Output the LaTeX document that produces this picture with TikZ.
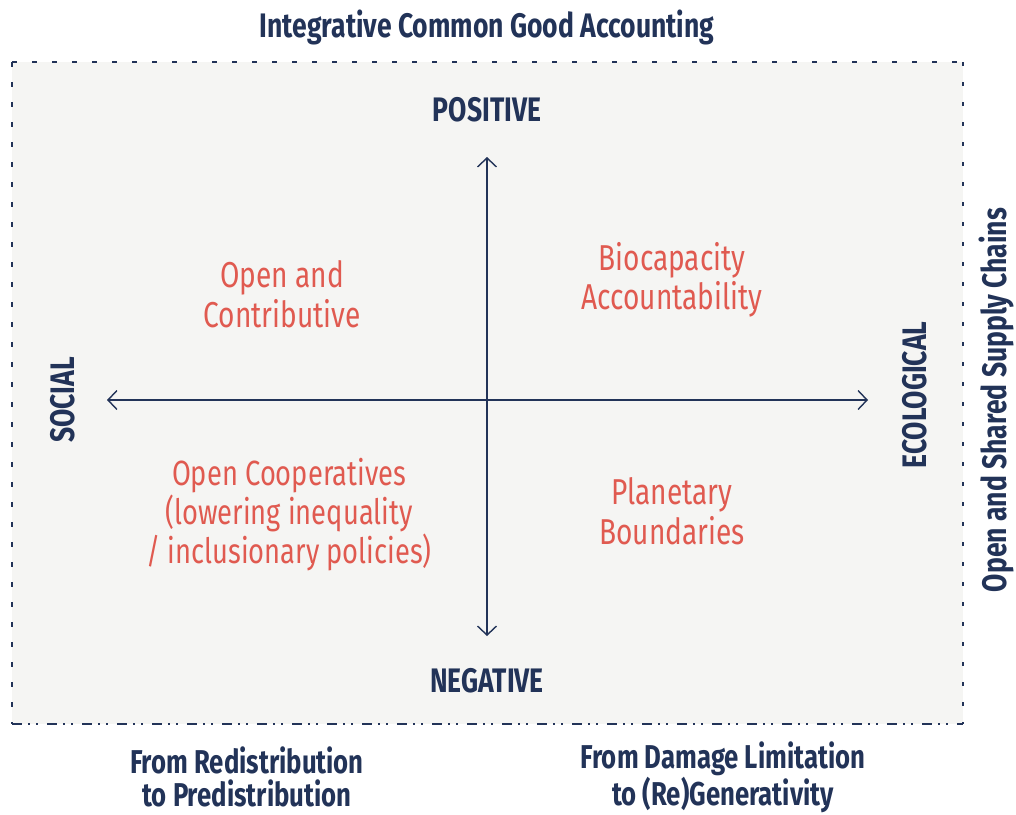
\documentclass[tikz,border=0pt]{standalone}
\usepackage{fontspec}
\usetikzlibrary{arrows.meta}
\newfontfamily\condfont[FakeStretch=0.78]{Fira Sans}
\definecolor{navy}{HTML}{223358}
\definecolor{coral}{HTML}{E05A50}
\definecolor{paper}{HTML}{F5F5F3}

\begin{document}
\begin{tikzpicture}[x=1pt, y=-1pt,
    heading/.style={text=navy, font=\condfont\bfseries\fontsize{34}{36}\selectfont, align=center},
    axislabel/.style={text=navy, font=\condfont\bfseries\fontsize{34}{36}\selectfont},
    footnote/.style={text=navy, font=\condfont\bfseries\fontsize{33}{33}\selectfont, align=center, inner sep=0pt},
    quadrant/.style={text=coral, font=\condfont\fontsize{36}{39.5}\selectfont, align=center},
    axis/.style={navy, line width=1.4pt, {Straight Barb[length=9pt,width=19pt]}-{Straight Barb[length=9pt,width=19pt]}}]
    \useasboundingbox (0,0) rectangle (1016,814);
    \fill[paper] (12,62) rectangle (963,724);

    % frame
    \draw[navy, line width=1.6pt, dash pattern=on 5pt off 15pt] (12,62) -- (963,62);
    \draw[navy, line width=1.6pt, dash pattern=on 5pt off 15pt] (12,62) -- (12,724);
    \draw[navy, line width=1.6pt, dash pattern=on 4pt off 16pt] (963,62) -- (963,724);
    \draw[navy, line width=1.6pt, dash pattern=on 10pt off 6pt on 2pt off 6pt on 2pt off 9pt] (12,724) -- (963,724);

    \node[heading] (title) at (487,27) {Integrative Common Good Accounting};

    \coordinate (top) at (487,157);
    \coordinate (bottom) at (487,636);
    \coordinate (left) at (107,400);
    \coordinate (right) at (868,400);
    \draw[axis] (bottom) -- (top);
    \draw[axis] (left) -- (right);

    \node[axislabel] (pos) at (487,110) {POSITIVE};
    \node[axislabel] (neg) at (487,681) {NEGATIVE};
    \node[axislabel, rotate=90] (soc) at (63,400) {SOCIAL};
    \node[axislabel, rotate=90] (eco) at (915,395) {ECOLOGICAL};
    \node[axislabel, rotate=90] (chains) at (996,400) {Open and Shared Supply Chains};

    \node[quadrant] (contrib) at (282,294) {Open and\\Contributive};
    \node[quadrant] (biocap) at (672,280) {Biocapacity\\Accountability};
    \node[quadrant, font=\condfont\fontsize{35}{39}\selectfont] (coops) at (289,515) {Open Cooperatives\\(lowering inequality\\/ inclusionary policies)};
    \node[quadrant] (planet) at (672,511) {Planetary\\Boundaries};

    \node[footnote] (redis) at (247,777) {From Redistribution\\to Predistribution};
    \node[footnote] (regen) at (723,777) {From Damage Limitation\\to (Re)Generativity};
\end{tikzpicture}
\end{document}
